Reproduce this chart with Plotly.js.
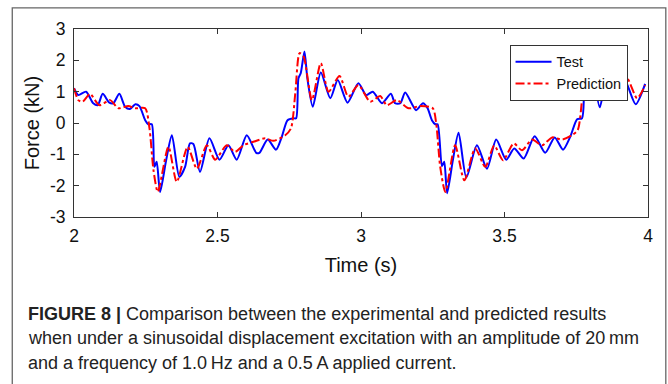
<!DOCTYPE html>
<html>
<head>
<meta charset="utf-8">
<script src="https://cdn.plot.ly/plotly-3.0.1.min.js"></script>
<style>
html,body{margin:0;padding:0;background:#fff;}
#chart{width:668px;height:384px;}
</style>
</head>
<body>
<div id="chart"></div>
<script>
// ---- data ----
const testTime = [2.000,2.015,2.042,2.067,2.083,2.100,2.123,2.137,2.158,2.178,2.195,2.214,2.228,2.248,2.259,2.271,2.280,2.288,2.300,2.321,2.341,2.367,2.387,2.404,2.416,2.439,2.472,2.507,2.538,2.567,2.602,2.635,2.646,2.675,2.704,2.724,2.744,2.765,2.774,2.782,2.790,2.803,2.813,2.832,2.860,2.893,2.919,2.953,2.991,3.018,3.041,3.073,3.104,3.119,3.137,3.154,3.192,3.216,3.232,3.247,3.259,3.267,3.282,3.290,3.300,3.320,3.340,3.367,3.404,3.439,3.471,3.506,3.534,3.567,3.605,3.642,3.675,3.704,3.729,3.753,3.770,3.778,3.790,3.803,3.813,3.832,3.860,3.895,3.919,3.957,3.990];
const testForce = [1.11,0.89,1.00,0.63,0.57,0.93,0.65,0.63,0.93,0.52,0.45,0.60,0.54,0.09,-0.04,-0.04,-1.40,-1.24,-2.20,-1.19,-0.39,-1.72,-1.40,-0.65,-0.67,-1.56,-0.49,-1.17,-0.71,-1.17,-0.39,-0.95,-0.95,-0.53,-0.85,-0.44,0.09,0.15,0.15,1.43,1.59,2.28,1.43,0.52,1.61,0.79,1.37,0.65,1.27,0.89,1.00,0.63,0.93,0.63,0.63,0.97,0.41,0.63,0.47,0.09,-0.04,-0.04,-1.38,-1.24,-2.24,-1.19,-0.31,-1.74,-0.71,-1.46,-0.53,-1.17,-0.81,-1.13,-0.42,-0.95,-0.46,-0.85,-0.44,0.12,0.15,1.05,1.59,2.20,1.43,0.50,1.60,0.76,1.37,0.60,1.25];

const predTime = [2.000,2.015,2.030,2.056,2.088,2.126,2.155,2.189,2.213,2.248,2.263,2.277,2.292,2.329,2.358,2.396,2.428,2.463,2.492,2.532,2.561,2.590,2.625,2.666,2.695,2.736,2.756,2.771,2.786,2.800,2.829,2.860,2.887,2.925,2.956,2.991,3.032,3.067,3.090,3.125,3.166,3.206,3.250,3.262,3.276,3.294,3.328,3.360,3.398,3.433,3.464,3.495,3.532,3.561,3.596,3.631,3.666,3.701,3.735,3.755,3.770,3.786,3.800,3.822,3.860,3.887,3.925,3.962,3.990];
const predForce = [1.11,0.73,0.68,0.93,0.57,0.73,0.47,0.54,0.47,0.47,-0.17,-1.51,-2.20,-0.76,-1.88,-0.76,-1.46,-0.71,-1.17,-0.71,-0.92,-0.71,-0.60,-0.49,-0.57,-0.39,-0.17,0.95,2.23,2.12,0.73,1.91,1.00,1.50,0.84,1.21,0.68,0.86,0.57,0.73,0.47,0.54,0.47,-0.01,-1.40,-2.20,-0.71,-1.83,-0.81,-1.40,-0.72,-1.19,-0.65,-0.87,-0.53,-0.71,-0.46,-0.53,-0.39,-0.23,0.73,2.20,2.10,0.79,1.90,1.00,1.45,0.79,1.21];

const xTicks = [2, 2.5, 3, 3.5, 4];
const xTickText = ['2', '2.5', '3', '3.5', '4'];
const yTicks = [-3, -2, -1, 0, 1, 2, 3];
const yTickText = ['-3', '-2', '-1', '0', '1', '2', '3'];

const seriesNames = ['Test', 'Prediction'];
const captionLines = [
  '<b>FIGURE 8 |</b> Comparison between the experimental and predicted results',
  'when under a sinusoidal displacement excitation with an amplitude of 20\u2009mm',
  'and a frequency of 1.0\u2009Hz and a 0.5\u2009A applied current.'
];

// ---- geometry helpers (pixel -> paper) ----
const W = 668, H = 384;
const L = 74, R = 647.7, T = 29.3, B = 216.7;
const PW = R - L, PH = B - T;
const px = x => (x - L) / PW;
const py = y => (B - y) / PH;

const traces = [
  {
    x: testTime, y: testForce, name: seriesNames[0], type: 'scatter', mode: 'lines',
    line: {color: '#0000ff', width: 2, shape: 'spline', smoothing: 0.7}
  },
  {
    x: predTime, y: predForce, name: seriesNames[1], type: 'scatter', mode: 'lines',
    line: {color: '#ff0000', width: 2, dash: '9px,3px,3px,3px', shape: 'spline', smoothing: 0.7}
  }
];

const tickFont = {family: 'Liberation Sans, Arial, sans-serif', size: 17.5, color: '#111'};
const titleFont = {family: 'Liberation Sans, Arial, sans-serif', size: 20, color: '#111'};

const annotations = captionLines.map((t, i) => ({
  text: t, xref: 'paper', yref: 'paper', x: px(26), y: py(313 + i * 24.5),
  xanchor: 'left', yanchor: 'middle', showarrow: false, align: 'left',
  font: {family: 'Liberation Sans, Arial, sans-serif', size: 18, color: '#222'}
}));

const layout = {
  width: W, height: H,
  margin: {l: L, r: W - R, t: T, b: H - B, pad: 0},
  paper_bgcolor: '#fff', plot_bgcolor: '#fff',
  showlegend: true,
  legend: {
    x: px(509.3), y: py(45), xanchor: 'left', yanchor: 'top',
    bgcolor: '#fff', bordercolor: '#333', borderwidth: 1,
    font: {family: 'Liberation Sans, Arial, sans-serif', size: 14.5, color: '#111'},
    tracegroupgap: 0, itemwidth: 36
  },
  xaxis: {
    range: [2, 4], tickvals: xTicks, ticktext: xTickText,
    showgrid: false, zeroline: false, showline: true, linecolor: '#333', linewidth: 1,
    mirror: 'allticks', ticks: 'inside', ticklen: 5, tickcolor: '#333',
    tickfont: tickFont, ticklabelstandoff: 3,
    title: {text: 'Time (s)', font: titleFont, standoff: 12}
  },
  yaxis: {
    range: [-3, 3], tickvals: yTicks, ticktext: yTickText,
    showgrid: false, zeroline: false, showline: true, linecolor: '#333', linewidth: 1,
    mirror: 'allticks', ticks: 'inside', ticklen: 5, tickcolor: '#333',
    tickfont: tickFont, ticklabelstandoff: 4,
    title: {text: 'Force (kN)', font: titleFont, standoff: 4}
  },
  shapes: [{
    type: 'path', xref: 'paper', yref: 'paper',
    path: `M ${px(12.3)} ${py(400)} L ${px(12.3)} ${py(8.3)} L ${px(665.5)} ${py(8.3)} L ${px(665.5)} ${py(400)}`,
    line: {color: '#666', width: 1.3}
  }],
  annotations: annotations
};

Plotly.newPlot('chart', traces, layout, {staticPlot: true, displayModeBar: false});
</script>
</body>
</html>
